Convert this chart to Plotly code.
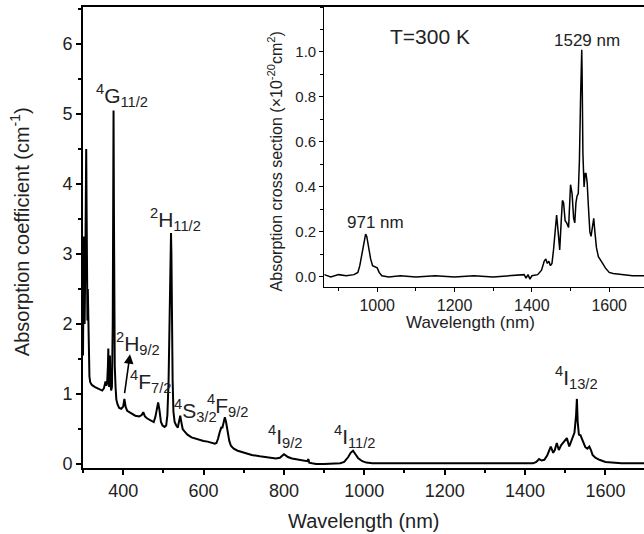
import plotly.graph_objects as go

# ---------------- data ----------------
main_wl = [300, 301, 302, 303, 304, 305, 306, 307, 308, 309, 310, 311, 312, 313, 314, 316, 318, 322, 330, 340,
           348, 352, 356, 358, 360, 362, 363, 364, 365, 366, 367, 368, 370, 372, 374, 375, 376, 377, 378, 379,
           381, 383, 386, 390, 395, 400, 403, 406, 410, 420, 430, 440, 446, 450, 454, 460, 470, 476, 480, 484,
           487, 490, 494, 498, 503, 507, 510, 513, 516, 518, 519, 520, 521, 523, 525, 528, 532, 536, 538, 540,
           542, 544, 546, 548, 552, 560, 570, 580, 590, 600, 610, 620, 628, 632, 636, 640, 644, 647, 650, 653,
           656, 660, 664, 668, 675, 685, 700, 720, 740, 760, 780, 790, 795, 800, 805, 810, 820, 830, 840, 850,
           858, 861, 863, 870, 880, 900, 920, 940, 950, 960, 966, 972, 978, 985, 995, 1005, 1020, 1060, 1100, 1150,
           1200, 1250, 1300, 1350, 1390, 1400, 1420, 1428, 1435, 1441, 1448, 1455, 1464, 1470, 1474, 1479, 1484, 1490,
           1496, 1504, 1510, 1513, 1518, 1523, 1527, 1529, 1531, 1534, 1538, 1541, 1545, 1550, 1555, 1560, 1564,
           1568, 1575, 1585, 1600, 1615, 1640, 1670, 1700]
main_abs = [1.55, 2.3, 3.25, 2.6, 2.0, 2.5, 3.0, 3.5, 4.5, 3.6, 2.4, 2.05, 2.5, 2.1, 1.6, 1.25, 1.17, 1.13, 1.1, 1.07,
            1.05, 1.08, 1.18, 1.12, 1.15, 1.4, 1.65, 1.3, 1.1, 1.4, 1.55, 1.2, 1.05, 1.1, 2.0, 3.5, 5.05, 3.6, 2.0, 1.4,
            1.1, 0.92, 0.85, 0.8, 0.79, 0.82, 0.93, 0.82, 0.76, 0.72, 0.69, 0.68, 0.7, 0.74, 0.68, 0.65, 0.62, 0.6, 0.67, 0.82,
            0.88, 0.78, 0.6, 0.55, 0.53, 0.55, 0.7, 1.2, 2.2, 3.0, 3.3, 3.0, 2.2, 1.2, 0.75, 0.6, 0.55, 0.52, 0.58, 0.66,
            0.69, 0.62, 0.55, 0.5, 0.47, 0.42, 0.38, 0.36, 0.34, 0.33, 0.32, 0.3, 0.29, 0.3, 0.36, 0.45, 0.52, 0.52, 0.58, 0.67,
            0.6, 0.45, 0.33, 0.26, 0.22, 0.19, 0.16, 0.13, 0.11, 0.09, 0.08, 0.09, 0.12, 0.14, 0.12, 0.1, 0.08, 0.07, 0.06, 0.05,
            0.04, 0.07, 0.02, 0.01, 0.0, 0.0, 0.01, 0.01, 0.03, 0.1, 0.16, 0.19, 0.14, 0.08, 0.04, 0.02, 0.01, 0.01, 0.01, 0.01,
            0.01, 0.01, 0.01, 0.01, 0.01, 0.02, 0.01, 0.03, 0.07, 0.05, 0.06, 0.12, 0.25, 0.16, 0.2, 0.3, 0.2, 0.27,
            0.32, 0.37, 0.25, 0.3, 0.39, 0.45, 0.7, 0.93, 0.6, 0.42, 0.41, 0.37, 0.3, 0.24, 0.22, 0.25, 0.2,
            0.13, 0.09, 0.06, 0.03, 0.02, 0.01, 0.01, 0.01]

inset_wl = [863, 880, 900, 920, 940, 950, 955, 960, 965, 970, 973, 978, 983, 988, 995, 1000, 1005, 1012, 1030, 1060,
            1100, 1150, 1200, 1250, 1300, 1350, 1380, 1385, 1390, 1395, 1400, 1415, 1425, 1432, 1436, 1440, 1444, 1448,
            1452, 1456, 1460, 1464, 1468, 1472, 1476, 1479, 1482, 1486, 1490, 1495, 1500, 1504, 1508, 1511, 1514, 1517,
            1520, 1523, 1526, 1528, 1529, 1530, 1532, 1535, 1538, 1540, 1543, 1546, 1550, 1553, 1557, 1560, 1563, 1567,
            1572, 1578, 1583, 1590, 1600, 1610, 1630, 1660, 1690]
inset_sigma = [0.01, 0.0, 0.01, 0.005, 0.01, 0.02, 0.05, 0.1, 0.15, 0.19, 0.18, 0.13, 0.08, 0.05, 0.045, 0.04, 0.02, 0.005, 0.0, 0.005,
               0.0, 0.005, 0.0, 0.005, 0.0, 0.005, 0.01, -0.005, 0.01, -0.01, 0.005, 0.01, 0.03, 0.07, 0.08, 0.06, 0.07, 0.05,
               0.06, 0.12, 0.22, 0.275, 0.2, 0.12, 0.25, 0.34, 0.33, 0.25, 0.24, 0.22, 0.41, 0.37, 0.26, 0.24, 0.33, 0.36,
               0.37, 0.52, 0.8, 1.0, 1.01, 0.9, 0.55, 0.4, 0.46, 0.46, 0.42, 0.32, 0.2, 0.18, 0.24, 0.26, 0.2, 0.13,
               0.09, 0.07, 0.06, 0.04, 0.02, 0.015, 0.01, 0.005, 0.005]

main_xticks = [400, 600, 800, 1000, 1200, 1400, 1600]
main_yticks = [0, 1, 2, 3, 4, 5, 6]
inset_xticks = [1000, 1200, 1400, 1600]
inset_yticks = [0.0, 0.2, 0.4, 0.6, 0.8, 1.0]

level_labels = ["<sup>4</sup>G<sub>11/2</sub>", "<sup>2</sup>H<sub>11/2</sub>", "<sup>2</sup>H<sub>9/2</sub>",
                "<sup>4</sup>F<sub>7/2</sub>", "<sup>4</sup>S<sub>3/2</sub>", "<sup>4</sup>F<sub>9/2</sub>",
                "<sup>4</sup>I<sub>9/2</sub>", "<sup>4</sup>I<sub>11/2</sub>", "<sup>4</sup>I<sub>13/2</sub>"]
level_x = [396, 529, 437, 468, 579, 659, 802, 977, 1528]
level_y = [5.27, 3.5, 1.72, 1.18, 0.77, 0.84, 0.40, 0.40, 1.23]

FONT = "Liberation Sans, Arial, sans-serif"
TXT = "#222"

fig = go.Figure()
fig.add_trace(go.Scatter(x=main_wl, y=main_abs, mode="lines",
                         line=dict(color="black", width=2), xaxis="x", yaxis="y",
                         showlegend=False, hoverinfo="skip"))
fig.add_trace(go.Scatter(x=inset_wl, y=inset_sigma, mode="lines",
                         line=dict(color="black", width=1.5), xaxis="x2", yaxis="y2",
                         showlegend=False, hoverinfo="skip"))

fig.update_layout(
    width=644, height=534,
    margin=dict(l=83, r=0, t=7, b=66),
    paper_bgcolor="white", plot_bgcolor="white",
    font=dict(family=FONT, color=TXT),
    xaxis=dict(domain=[0, 1], range=[300, 1696], tickvals=main_xticks,
               showline=True, linecolor="black", linewidth=2, mirror=True,
               ticks="outside", ticklen=5, tickwidth=1.5, tickcolor="black",
               minor=dict(dtick=100, tick0=300, ticks="outside", ticklen=3, tickcolor="black"),
               showgrid=False, zeroline=False, tickfont=dict(size=18, family=FONT, color=TXT)),
    yaxis=dict(domain=[0, 1], range=[-0.057, 6.53], tickvals=main_yticks,
               showline=True, linecolor="black", linewidth=2,
               ticks="outside", ticklen=5, tickwidth=1.5, tickcolor="black",
               minor=dict(dtick=0.5, tick0=0, ticks="outside", ticklen=3, tickcolor="black"),
               showgrid=False, zeroline=False, tickfont=dict(size=18, family=FONT, color=TXT)),
    xaxis2=dict(domain=[0.43, 1], anchor="y2", range=[863, 1690], tickvals=inset_xticks,
                showline=True, linecolor="black", linewidth=1,
                ticks="outside", ticklen=4, tickcolor="black",
                minor=dict(dtick=100, tick0=900, ticks="outside", ticklen=3, tickcolor="black"),
                showgrid=False, zeroline=False, tickfont=dict(size=16, family=FONT, color=TXT)),
    yaxis2=dict(domain=[0.3926, 1], anchor="x2", range=[-0.045, 1.2], tickvals=inset_yticks,
                tickformat=".1f",
                showline=True, linecolor="black", linewidth=1,
                ticks="outside", ticklen=4, tickcolor="black",
                minor=dict(dtick=0.1, tick0=0, ticks="outside", ticklen=3, tickcolor="black"),
                showgrid=False, zeroline=False, tickfont=dict(size=15, family=FONT, color=TXT)),
)

ann = []
# axis titles
ann.append(dict(text="Wavelength (nm)", xref="paper", yref="paper", x=0.501, y=-0.115,
                showarrow=False, font=dict(size=20, family=FONT, color=TXT), xanchor="center", yanchor="middle"))
ann.append(dict(text="Absorption coefficient (cm<sup>-1</sup>)", xref="paper", yref="paper", x=-0.112, y=0.512,
                textangle=-90, showarrow=False, font=dict(size=20, family=FONT, color=TXT),
                xanchor="center", yanchor="middle"))
ann.append(dict(text="Wavelength (nm)", xref="paper", yref="paper", x=0.69, y=0.3167,
                showarrow=False, font=dict(size=17, family=FONT, color=TXT), xanchor="center", yanchor="middle"))
ann.append(dict(text="Absorption cross section (×10<sup>-20</sup>cm<sup>2</sup>)", xref="paper", yref="paper",
                x=0.343, y=0.666, textangle=-90, showarrow=False,
                font=dict(size=16, family=FONT, color=TXT), xanchor="center", yanchor="middle"))
# level labels
for t, lx, ly in zip(level_labels, level_x, level_y):
    ann.append(dict(text=t, x=lx, y=ly, xref="x", yref="y", showarrow=False,
                    font=dict(size=21, family=FONT, color=TXT), xanchor="center", yanchor="middle"))
# arrow for 2H9/2
ann.append(dict(text="", x=417, y=1.57, ax=403, ay=0.99, xref="x", yref="y", axref="x", ayref="y",
                showarrow=True, arrowhead=2, arrowsize=1.2, arrowwidth=1.6, arrowcolor="black"))
# inset labels
ann.append(dict(text="T=300 K", x=1137, y=1.067, xref="x2", yref="y2", showarrow=False,
                font=dict(size=21, family=FONT, color=TXT), xanchor="center", yanchor="middle"))
ann.append(dict(text="1529 nm", x=1542, y=1.053, xref="x2", yref="y2", showarrow=False,
                font=dict(size=17, family=FONT, color=TXT), xanchor="center", yanchor="middle"))
ann.append(dict(text="971 nm", x=995, y=0.24, xref="x2", yref="y2", showarrow=False,
                font=dict(size=17, family=FONT, color=TXT), xanchor="center", yanchor="middle"))
fig.update_layout(annotations=ann)

fig.write_html("out.html", config={"displayModeBar": False},
               post_script="document.body.style.margin='0';document.body.style.padding='0';")
